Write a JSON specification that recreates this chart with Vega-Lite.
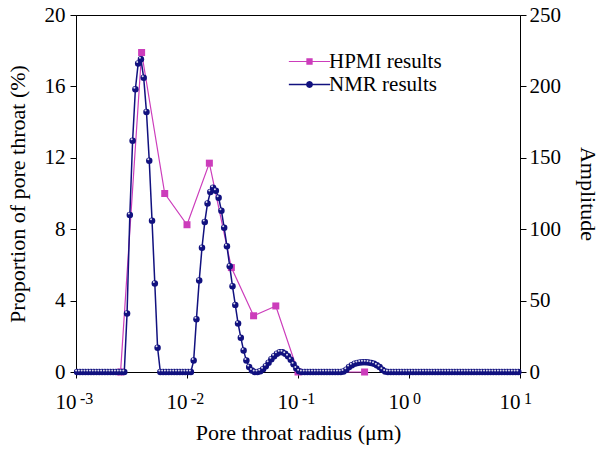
{
  "$schema": "https://vega.github.io/schema/vega-lite/v6.json",
  "width": 444,
  "height": 357,
  "autosize": {"type": "none"},
  "padding": {"left": 76, "top": 15, "right": 80, "bottom": 77},
  "background": "white",
  "config": {
    "view": {"stroke": "black", "strokeWidth": 1},
    "axis": {
      "grid": false,
      "domainColor": "black",
      "tickColor": "black",
      "labelColor": "black",
      "titleColor": "black",
      "labelFont": "Liberation Serif",
      "titleFont": "Liberation Serif",
      "labelFontSize": 21,
      "titleFontSize": 22,
      "titleFontWeight": "normal",
      "tickSize": 6,
      "domainWidth": 1,
      "tickWidth": 1
    }
  },
  "datasets": {
    "hpmi": [
      {"r": 0.00252, "p": 0},
      {"r": 0.0039, "p": 17.9},
      {"r": 0.0063, "p": 10.0},
      {"r": 0.01, "p": 8.25},
      {"r": 0.0159, "p": 11.7},
      {"r": 0.0251, "p": 5.85},
      {"r": 0.0398, "p": 3.15},
      {"r": 0.0631, "p": 3.7},
      {"r": 0.1, "p": 0},
      {"r": 0.398, "p": 0}
    ],
    "exps": [
      {"r": 0.001, "e": "-3", "z": 0},
      {"r": 0.01, "e": "-2", "z": 0},
      {"r": 0.1, "e": "-1", "z": 0},
      {"r": 1, "e": "0", "z": 0},
      {"r": 10, "e": "1", "z": 0}
    ],
    "nmr": [
      {"r": 0.0010233, "a": 0}, {"r": 0.0010839, "a": 0}, {"r": 0.0011482, "a": 0}, {"r": 0.0012162, "a": 0},
      {"r": 0.0012882, "a": 0}, {"r": 0.0013646, "a": 0}, {"r": 0.0014454, "a": 0}, {"r": 0.0015311, "a": 0},
      {"r": 0.0016218, "a": 0}, {"r": 0.0017179, "a": 0}, {"r": 0.0018197, "a": 0}, {"r": 0.0019275, "a": 0},
      {"r": 0.0020417, "a": 0}, {"r": 0.0021627, "a": 0}, {"r": 0.0022909, "a": 0}, {"r": 0.0024266, "a": 0},
      {"r": 0.0025704, "a": 0}, {"r": 0.0027227, "a": 0}, {"r": 0.002884, "a": 41}, {"r": 0.0030549, "a": 110},
      {"r": 0.0032359, "a": 162}, {"r": 0.0034277, "a": 198}, {"r": 0.0036308, "a": 216}, {"r": 0.0038459, "a": 219},
      {"r": 0.0040738, "a": 206}, {"r": 0.0043152, "a": 182}, {"r": 0.0045709, "a": 148}, {"r": 0.0048417, "a": 106},
      {"r": 0.0051286, "a": 62}, {"r": 0.0054325, "a": 17}, {"r": 0.0057544, "a": 0}, {"r": 0.0060954, "a": 0},
      {"r": 0.0064565, "a": 0}, {"r": 0.0068391, "a": 0}, {"r": 0.0072444, "a": 0}, {"r": 0.0076736, "a": 0},
      {"r": 0.0081283, "a": 0}, {"r": 0.0086099, "a": 0}, {"r": 0.0091201, "a": 0}, {"r": 0.0096605, "a": 0},
      {"r": 0.010233, "a": 0}, {"r": 0.010839, "a": 0}, {"r": 0.011482, "a": 8}, {"r": 0.012162, "a": 37},
      {"r": 0.012882, "a": 64}, {"r": 0.013646, "a": 87}, {"r": 0.014454, "a": 105}, {"r": 0.015311, "a": 118},
      {"r": 0.016218, "a": 126}, {"r": 0.017179, "a": 129}, {"r": 0.018197, "a": 127}, {"r": 0.019275, "a": 122},
      {"r": 0.020417, "a": 113}, {"r": 0.021627, "a": 101}, {"r": 0.022909, "a": 88}, {"r": 0.024266, "a": 74},
      {"r": 0.025704, "a": 60}, {"r": 0.027227, "a": 47}, {"r": 0.02884, "a": 34}, {"r": 0.030549, "a": 24},
      {"r": 0.032359, "a": 15}, {"r": 0.034277, "a": 8}, {"r": 0.036308, "a": 3.5}, {"r": 0.038459, "a": 1},
      {"r": 0.040738, "a": 0}, {"r": 0.043152, "a": 0}, {"r": 0.045709, "a": 0.5}, {"r": 0.048417, "a": 2},
      {"r": 0.051286, "a": 4}, {"r": 0.054325, "a": 6.5}, {"r": 0.057544, "a": 9}, {"r": 0.060954, "a": 11},
      {"r": 0.064565, "a": 12.8}, {"r": 0.068391, "a": 13.8}, {"r": 0.072444, "a": 13.8}, {"r": 0.076736, "a": 12.8},
      {"r": 0.081283, "a": 11}, {"r": 0.086099, "a": 8.5}, {"r": 0.091201, "a": 5.5}, {"r": 0.096605, "a": 2.5},
      {"r": 0.10233, "a": 0.5}, {"r": 0.10839, "a": 0}, {"r": 0.11482, "a": 0}, {"r": 0.12162, "a": 0},
      {"r": 0.12882, "a": 0}, {"r": 0.13646, "a": 0}, {"r": 0.14454, "a": 0}, {"r": 0.15311, "a": 0},
      {"r": 0.16218, "a": 0}, {"r": 0.17179, "a": 0}, {"r": 0.18197, "a": 0}, {"r": 0.19275, "a": 0},
      {"r": 0.20417, "a": 0}, {"r": 0.21627, "a": 0}, {"r": 0.22909, "a": 0}, {"r": 0.24266, "a": 0},
      {"r": 0.25704, "a": 0.3}, {"r": 0.27227, "a": 1.5}, {"r": 0.2884, "a": 3.5}, {"r": 0.30549, "a": 4.8},
      {"r": 0.32359, "a": 5.7}, {"r": 0.34277, "a": 6.3}, {"r": 0.36308, "a": 6.6}, {"r": 0.38459, "a": 6.8},
      {"r": 0.40738, "a": 6.8}, {"r": 0.43152, "a": 6.6}, {"r": 0.45709, "a": 6.3}, {"r": 0.48417, "a": 5.7},
      {"r": 0.51286, "a": 4.8}, {"r": 0.54325, "a": 3.5}, {"r": 0.57544, "a": 1.5}, {"r": 0.60954, "a": 0.3},
      {"r": 0.64565, "a": 0}, {"r": 0.68391, "a": 0}, {"r": 0.72444, "a": 0}, {"r": 0.76736, "a": 0},
      {"r": 0.81283, "a": 0}, {"r": 0.86099, "a": 0}, {"r": 0.91201, "a": 0}, {"r": 0.96605, "a": 0},
      {"r": 1.0233, "a": 0}, {"r": 1.0839, "a": 0}, {"r": 1.1482, "a": 0}, {"r": 1.2162, "a": 0},
      {"r": 1.2882, "a": 0}, {"r": 1.3646, "a": 0}, {"r": 1.4454, "a": 0}, {"r": 1.5311, "a": 0},
      {"r": 1.6218, "a": 0}, {"r": 1.7179, "a": 0}, {"r": 1.8197, "a": 0}, {"r": 1.9275, "a": 0},
      {"r": 2.0417, "a": 0}, {"r": 2.1627, "a": 0}, {"r": 2.2909, "a": 0}, {"r": 2.4266, "a": 0},
      {"r": 2.5704, "a": 0}, {"r": 2.7227, "a": 0}, {"r": 2.884, "a": 0}, {"r": 3.0549, "a": 0},
      {"r": 3.2359, "a": 0}, {"r": 3.4277, "a": 0}, {"r": 3.6308, "a": 0}, {"r": 3.8459, "a": 0},
      {"r": 4.0738, "a": 0}, {"r": 4.3152, "a": 0}, {"r": 4.5709, "a": 0}, {"r": 4.8417, "a": 0},
      {"r": 5.1286, "a": 0}, {"r": 5.4325, "a": 0}, {"r": 5.7544, "a": 0}, {"r": 6.0954, "a": 0},
      {"r": 6.4565, "a": 0}, {"r": 6.8391, "a": 0}, {"r": 7.2444, "a": 0}, {"r": 7.6736, "a": 0},
      {"r": 8.1283, "a": 0}, {"r": 8.6099, "a": 0}, {"r": 9.1201, "a": 0}, {"r": 9.6605, "a": 0}
    ]
  },
  "encoding": {
    "x": {
      "field": "r",
      "type": "quantitative",
      "scale": {"type": "log", "domain": [0.001, 10], "nice": false},
      "axis": {
        "values": [0.001, 0.01, 0.1, 1, 10],
        "title": "Pore throat radius (μm)",
        "labelPadding": 13,
        "labelAlign": "right",
        "labelDx": 3,
        "labelFlush": false,
        "labelOverlap": false,
        "titlePadding": 10,
        "labelExpr": "'10'"
      }
    }
  },
  "layer": [
    {
      "data": {"name": "hpmi"},
      "encoding": {
        "y": {
          "field": "p",
          "type": "quantitative",
          "scale": {"domain": [0, 20], "nice": false},
          "axis": {
            "orient": "left",
            "values": [0, 4, 8, 12, 16, 20],
            "title": "Proportion of pore throat (%)",
            "labelPadding": 5,
            "titlePadding": 15
          }
        }
      },
      "layer": [
        {
          "mark": {"type": "line", "strokeWidth": 1.2},
          "encoding": {
            "color": {
              "datum": "HPMI results",
              "type": "nominal",
              "scale": {"domain": ["HPMI results", "NMR results"], "range": ["#cc3dbb", "#11117f"]},
              "legend": {
                "orient": "none",
                "legendX": 223,
                "legendY": 36,
                "title": null,
                "padding": 0,
                "labelFont": "Liberation Serif",
                "labelFontSize": 21,
                "labelColor": "black",
                "symbolSize": 49,
                "labelOffset": 9,
                "rowPadding": 1,
                "encode": {
                  "symbols": {
                    "update": {
                      "shape": {"signal": "datum.value === 'HPMI results' ? 'M-5.9,-0.17H5.9V0.17H-5.9ZM-0.9,-0.9H0.9V0.9H-0.9Z' : 'M-5.9,-0.2H5.9V0.2H-5.9ZM1,0L0.866,0.5L0.5,0.866L0,1L-0.5,0.866L-0.866,0.5L-1,0L-0.866,-0.5L-0.5,-0.866L0,-1L0.5,-0.866L0.866,-0.5Z'"},
                      "fill": {"signal": "datum.value === 'HPMI results' ? '#cc3dbb' : '#11117f'"},
                      "stroke": {"value": "transparent"},
                      "strokeWidth": {"value": 0},
                      "opacity": {"value": 1}
                    }
                  }
                }
              }
            }
          }
        },
        {
          "mark": {"type": "point", "shape": "square", "filled": true, "size": 49, "color": "#cc3dbb", "opacity": 1}
        }
      ]
    },
    {
      "data": {"name": "nmr"},
      "encoding": {
        "y": {
          "field": "a",
          "type": "quantitative",
          "scale": {"domain": [0, 250], "nice": false},
          "axis": {
            "orient": "right",
            "values": [0, 50, 100, 150, 200, 250],
            "title": "Amplitude",
            "labelPadding": 3,
            "titlePadding": 15
          }
        }
      },
      "layer": [
        {
          "mark": {"type": "line", "strokeWidth": 1.5},
          "encoding": {"color": {"datum": "NMR results", "type": "nominal"}}
        },
        {
          "mark": {"type": "point", "shape": "circle", "filled": true, "size": 42, "color": "#11117f", "opacity": 1}
        },
        {
          "mark": {"type": "point", "shape": "circle", "filled": true, "size": 4, "color": "#ffffff", "opacity": 0.85, "xOffset": -1, "yOffset": -1.5}
        }
      ]
    },
    {
      "data": {"name": "exps"},
      "mark": {"type": "text", "font": "Liberation Serif", "fontSize": 16, "align": "left", "baseline": "alphabetic", "dx": 4, "dy": 32, "fill": "black"},
      "encoding": {
        "y": {"field": "z", "type": "quantitative", "scale": {"domain": [0, 20], "nice": false}, "axis": null},
        "text": {"field": "e", "type": "nominal"}
      }
    }
  ],
  "resolve": {"scale": {"y": "independent"}}
}
